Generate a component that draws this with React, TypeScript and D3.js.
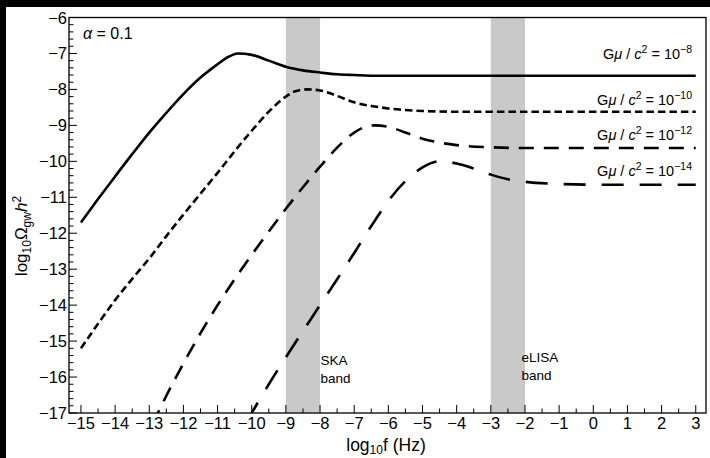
import React from "react";
import * as d3 from "d3";

const W = 710;
const H = 458;

// log10 f values and log10 Omega values per series
const seriesG8: [number, number][] = [
  [-15, -11.7], [-14.5, -11.05], [-14, -10.42], [-13.5, -9.8], [-13, -9.2], [-12.5, -8.65],
  [-12, -8.13], [-11.5, -7.67], [-11, -7.3], [-10.75, -7.13], [-10.4, -7.0], [-10, -7.04],
  [-9.5, -7.2], [-9, -7.37], [-8.5, -7.47], [-8, -7.53], [-7.5, -7.58], [-7, -7.6],
  [-6.25, -7.62], [-5, -7.62], [-2, -7.62], [3, -7.62],
];
const seriesG10: [number, number][] = [
  [-15, -15.2], [-14.5, -14.52], [-14, -13.86], [-13.5, -13.27], [-13, -12.7], [-12.5, -12.08],
  [-12, -11.48], [-11.5, -10.9], [-11, -10.32], [-10.5, -9.72], [-10, -9.15], [-9.5, -8.62],
  [-9, -8.2], [-8.75, -8.06], [-8.4, -8.0], [-8, -8.03], [-7.5, -8.18], [-7, -8.36],
  [-6.5, -8.46], [-6, -8.53], [-5, -8.6], [-4, -8.62], [-2, -8.62], [3, -8.62],
];
const seriesG12: [number, number][] = [
  [-12.9, -17.3], [-12.75, -17], [-12.5, -16.52], [-12, -15.62], [-11.5, -14.78], [-11, -14.0],
  [-10.5, -13.28], [-10, -12.6], [-9.5, -11.95], [-9, -11.32], [-8.5, -10.72], [-8, -10.15],
  [-7.5, -9.62], [-7, -9.2], [-6.75, -9.07], [-6.4, -9.0], [-6, -9.04], [-5.5, -9.2],
  [-5, -9.37], [-4.5, -9.48], [-4, -9.55], [-3, -9.61], [-2, -9.63], [3, -9.63],
];
const seriesG14: [number, number][] = [
  [-10.15, -17.25], [-10, -17], [-9.5, -16.2], [-9, -15.45], [-8.5, -14.72], [-8, -14.0],
  [-7.5, -13.28], [-7, -12.55], [-6.5, -11.8], [-6, -11.1], [-5.5, -10.55], [-5, -10.17],
  [-4.5, -10.0], [-4, -10.06], [-3.5, -10.2], [-3, -10.37], [-2.5, -10.5], [-2, -10.57],
  [-1, -10.63], [0, -10.65], [3, -10.65],
];

const seriesExps = ["−8", "−10", "−12", "−14"];
const labelLevels = [-7.16, -8.43, -9.4, -10.42];

const xTickValues = [-15, -14, -13, -12, -11, -10, -9, -8, -7, -6, -5, -4, -3, -2, -1, 0, 1, 2, 3];
const xTickLabels = ["−15", "−14", "−13", "−12", "−11", "−10", "−9", "−8", "−7", "−6", "−5", "−4", "−3", "−2", "−1", "0", "1", "2", "3"];
const yTickValues = [-17, -16, -15, -14, -13, -12, -11, -10, -9, -8, -7, -6];
const yTickLabels = ["−17", "−16", "−15", "−14", "−13", "−12", "−11", "−10", "−9", "−8", "−7", "−6"];

const bands: [number, number][] = [[-9, -8], [-3, -2]];
const bandNames = ["SKA", "eLISA"];

const FONT = "'Liberation Sans', Arial, sans-serif";

export default function App() {
  const left = 69, right = 706, top = 17.5, bottom = 413;
  const x = d3.scaleLinear().domain([-15.35, 3.3]).range([left, right]);
  const y = d3.scaleLinear().domain([-17, -6]).range([bottom, top]);
  const line = d3
    .line<[number, number]>()
    .x((d) => x(d[0]))
    .y((d) => y(d[1]))
    .curve(d3.curveMonotoneX);

  const series = [seriesG8, seriesG10, seriesG12, seriesG14];
  const dashes = ["none", "7.5 4", "15 10", "22 16"];

  const xMinor: number[] = [];
  for (let v = -15; v <= 3; v += 0.5) if (!Number.isInteger(v)) xMinor.push(v);
  const yMinor: number[] = [];
  for (let i = -85; i <= -30; i++) if (i % 5 !== 0) yMinor.push(i / 5);

  return (
    <svg
      width={W}
      height={H}
      style={{ position: "absolute", left: 0, top: 0, background: "#000" }}
      fontFamily={FONT}
    >
      <rect x={6} y={7} width={W - 6} height={H - 7} fill="#fff" />
      <defs>
        <clipPath id="plot">
          <rect x={left} y={top} width={right - left} height={bottom - top} />
        </clipPath>
      </defs>
      {bands.map((b, i) => (
        <rect key={i} x={x(b[0])} y={top} width={x(b[1]) - x(b[0])} height={bottom - top} fill="#c9c9c9" />
      ))}
      <g clipPath="url(#plot)">
        {series.map((s, i) => (
          <path
            key={i}
            d={line(s) || ""}
            fill="none"
            stroke="#000"
            strokeWidth={2.6}
            strokeDasharray={dashes[i]}
          />
        ))}
      </g>
      {/* frame */}
      <rect x={left} y={top} width={right - left} height={bottom - top} fill="none" stroke="#000" strokeWidth={1.3} />
      {/* x ticks */}
      {xTickValues.map((v, i) => (
        <g key={"xt" + i}>
          <line x1={x(v)} x2={x(v)} y1={bottom} y2={bottom - 8} stroke="#000" strokeWidth={1} />
          <text x={x(v)} y={429} textAnchor="middle" fontSize={16.5}>
            {xTickLabels[i]}
          </text>
        </g>
      ))}
      {xMinor.map((v, i) => (
        <line key={"xm" + i} x1={x(v)} x2={x(v)} y1={bottom} y2={bottom - 4.5} stroke="#000" strokeWidth={1} />
      ))}
      {/* y ticks */}
      {yTickValues.map((v, i) => (
        <g key={"yt" + i}>
          <line x1={left} x2={left + 8} y1={y(v)} y2={y(v)} stroke="#000" strokeWidth={1} />
          <text x={left - 2} y={y(v) + 6} textAnchor="end" fontSize={16.5}>
            {yTickLabels[i]}
          </text>
        </g>
      ))}
      {yMinor.map((v, i) => (
        <line key={"ym" + i} x1={left} x2={left + 4.5} y1={y(v)} y2={y(v)} stroke="#000" strokeWidth={1} />
      ))}
      {/* alpha label */}
      <text x={83} y={39} fontSize={16}>
        <tspan fontStyle="italic">α</tspan> = 0.1
      </text>
      {/* series labels */}
      {seriesExps.map((e, i) => (
        <text key={"sl" + i} x={692} y={y(labelLevels[i])} textAnchor="end" fontSize={14.5}>
          G<tspan fontStyle="italic">μ</tspan>{" / "}<tspan fontStyle="italic">c</tspan>
          <tspan dy={-6} fontSize={10.5}>2</tspan>
          <tspan dy={6}> = 10</tspan>
          <tspan dy={-6} fontSize={10.5}>{e}</tspan>
        </text>
      ))}
      {/* band labels */}
      {bands.map((b, i) => (
        <text key={"bl" + i} x={x(b[1]) + (i === 0 ? 0.5 : -3.5)} y={i === 0 ? 365 : 362} fontSize={13.5}>
          {bandNames[i]}
          <tspan x={x(b[1]) + (i === 0 ? 0.5 : -3.5)} dy={18}>band</tspan>
        </text>
      ))}
      {/* axis labels */}
      <text x={386} y={450.5} textAnchor="middle" fontSize={17.5}>
        log<tspan dy={3.5} fontSize={12}>10</tspan>
        <tspan dy={-3.5}>f (Hz)</tspan>
      </text>
      <text transform={`translate(27,${236}) rotate(-90)`} textAnchor="middle" fontSize={17}>
        log<tspan dy={4} fontSize={12}>10</tspan>
        <tspan dy={-4}>Ω</tspan>
        <tspan dy={4} fontSize={12}>gw</tspan>
        <tspan dy={-4} fontStyle="italic">h</tspan>
        <tspan dy={-6.5} fontSize={12}>2</tspan>
      </text>
    </svg>
  );
}
